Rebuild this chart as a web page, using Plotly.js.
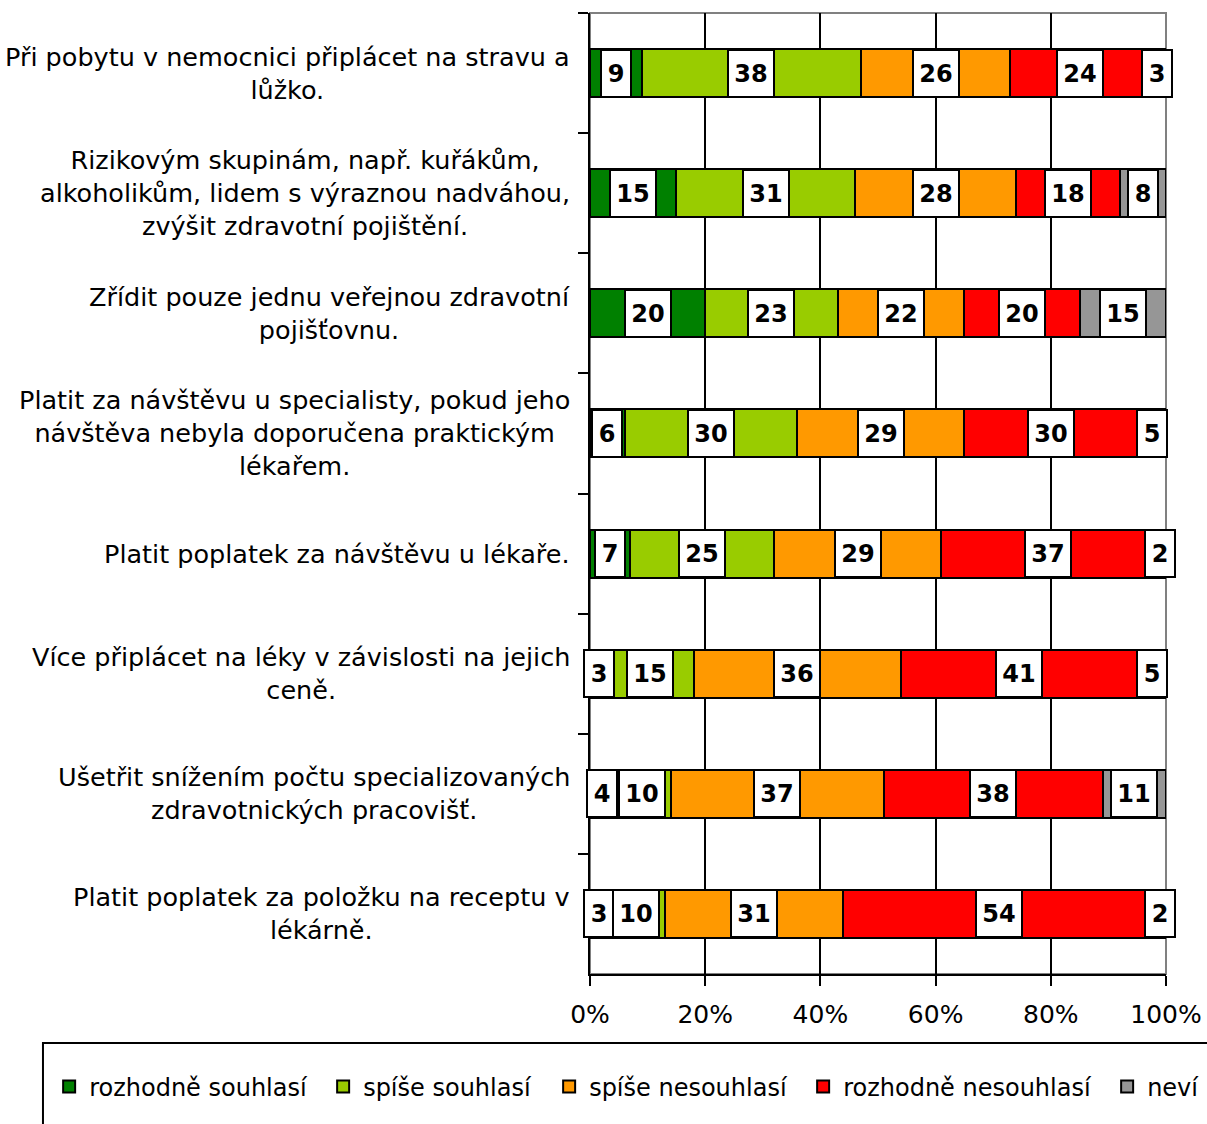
<!DOCTYPE html>
<html>
<head>
<meta charset="utf-8">
<script src="https://cdn.plot.ly/plotly-3.0.1.min.js"></script>
<style>
html,body{margin:0;padding:0;background:#fff;}
#chart{width:1207px;height:1124px;}
</style>
</head>
<body>
<div id="chart"></div>
<script>
// ---- data ----
var categories = [
  "Při pobytu v nemocnici připlácet na stravu a<br>lůžko.",
  "Rizikovým skupinám, např. kuřákům,<br>alkoholikům, lidem s výraznou nadváhou,<br>zvýšit zdravotní pojištění.",
  "Zřídit pouze jednu veřejnou zdravotní<br>pojišťovnu.",
  "Platit za návštěvu u specialisty, pokud jeho<br>návštěva nebyla doporučena praktickým<br>lékařem.",
  "Platit poplatek za návštěvu u lékaře.",
  "Více připlácet na léky v závislosti na jejich<br>ceně.",
  "Ušetřit snížením počtu specializovaných<br>zdravotnických pracovišť.",
  "Platit poplatek za položku na receptu v<br>lékárně."
];
var seriesNames = ["rozhodně souhlasí", "spíše souhlasí", "spíše nesouhlasí", "rozhodně nesouhlasí", "neví"];
var rozhodneSouhlasi   = [9, 15, 20, 6, 7, 3, 4, 3];
var spiseSouhlasi      = [38, 31, 23, 30, 25, 15, 10, 10];
var spiseNesouhlasi    = [26, 28, 22, 29, 29, 36, 37, 31];
var rozhodneNesouhlasi = [24, 18, 20, 30, 37, 41, 38, 54];
var nevi               = [3, 8, 15, 5, 2, 5, 11, 2];
var xTickVals = [0, 20, 40, 60, 80, 100];
var xTickText = ["0%", "20%", "40%", "60%", "80%", "100%"];

// ---- style ----
var seriesValues = [rozhodneSouhlasi, spiseSouhlasi, spiseNesouhlasi, rozhodneNesouhlasi, nevi];
var colors = ["#008000", "#99CC00", "#FF9900", "#FF0000", "#969696"];
var legendWidths = [229, 181, 209, 259, 50];
var FONT = "DejaVu Sans, Verdana, sans-serif";

var traces = seriesValues.map(function (vals, i) {
  return {
    type: "bar",
    orientation: "h",
    name: seriesNames[i],
    y: categories,
    x: vals,
    marker: { color: colors[i], line: { color: "#000", width: 2 } },
    hoverinfo: "skip",
    width: 0.4,
    legendwidth: legendWidths[i]
  };
});

// measure text for label boxes
var cv = document.createElement("canvas").getContext("2d");
cv.font = "bold 24px 'DejaVu Sans'";

var annotations = [];
// value labels
categories.forEach(function (cat, r) {
  var cum = 0;
  seriesValues.forEach(function (vals) {
    var v = vals[r];
    var w = cv.measureText(String(v)).width;
    annotations.push({
      xref: "x", yref: "y", x: cum + v / 2, y: cat,
      text: "<b>" + v + "</b>", showarrow: false,
      font: { family: FONT, size: 24, color: "#000" },
      bgcolor: "#fff", bordercolor: "#000", borderwidth: 2, borderpad: 1,
      width: Math.round(w + 9), height: 43,
      xanchor: "center", yanchor: "middle"
    });
    cum += v;
  });
});
// category labels
categories.forEach(function (cat) {
  annotations.push({
    xref: "paper", yref: "y", x: -0.033, y: cat,
    text: cat, showarrow: false, align: "center",
    xanchor: "right", yanchor: "middle", borderpad: 0,
    font: { family: FONT, size: 25.5, color: "#000" }
  });
});

var layout = {
  width: 1207, height: 1124,
  margin: { l: 590, r: 41, t: 13, b: 150, pad: 0, autoexpand: false },
  paper_bgcolor: "#fff", plot_bgcolor: "#fff",
  barmode: "stack",
  showlegend: true,
  font: { family: FONT, size: 24, color: "#000" },
  xaxis: {
    range: [0, 100], tickvals: xTickVals, ticktext: xTickText,
    showgrid: true, gridcolor: "#000", gridwidth: 2,
    showline: true, linecolor: "#000", linewidth: 2,
    ticks: "outside", ticklen: 10, tickwidth: 2, tickcolor: "#000",
    ticklabelstandoff: 7,
    tickfont: { family: FONT, size: 25, color: "#000" },
    zeroline: false, fixedrange: true
  },
  yaxis: {
    type: "category", autorange: "reversed",
    showticklabels: false, showgrid: false,
    showline: true, linecolor: "#000", linewidth: 2,
    ticks: "outside", ticklen: 10, tickwidth: 2, tickcolor: "#000",
    tickson: "boundaries", zeroline: false, fixedrange: true
  },
  legend: {
    orientation: "h", x: -0.939, y: -0.1175, xanchor: "left", yanchor: "middle",
    bgcolor: "rgba(0,0,0,0)", borderwidth: 0, traceorder: "normal",
    font: { family: FONT, size: 24, color: "#000" },
    itemwidth: 30
  },
  shapes: [
    { type: "rect", xref: "paper", yref: "paper", x0: 0, x1: 1, y0: 0, y1: 1,
      line: { color: "#808080", width: 2 }, fillcolor: "rgba(0,0,0,0)", layer: "between" },
    { type: "rect", xref: "paper", yref: "paper", x0: -0.9497, x1: 1.2, y0: -0.0717, y1: -0.3,
      line: { color: "#000", width: 2 }, fillcolor: "rgba(0,0,0,0)", layer: "above" }
  ],
  annotations: annotations
};

Plotly.newPlot("chart", traces, layout, { displayModeBar: false, staticPlot: true });
</script>
</body>
</html>
